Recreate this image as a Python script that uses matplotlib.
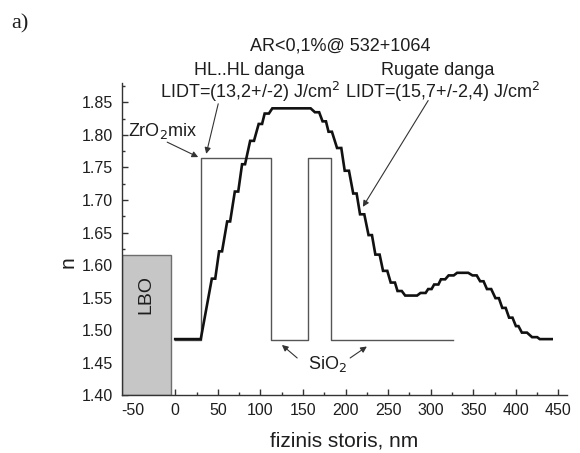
import matplotlib
matplotlib.use("Agg")
import matplotlib.pyplot as plt
from matplotlib.patches import Rectangle
from matplotlib.ticker import MultipleLocator

plt.rcParams['font.family'] = ['Liberation Sans', 'DejaVu Sans']
plt.rcParams['axes.unicode_minus'] = False

# HL..HL stack: layer boundaries (nm) and refractive index of each layer
hl_bounds = [0, 30, 113, 156, 183, 326]
hl_index = [1.485, 1.765, 1.485, 1.765, 1.485]

# Rugate profile: plateaus of the quantised index (start nm, end nm, n)
rug_start = [0, 43, 51.5, 61, 70, 78.5, 88, 98, 105, 114,
             164, 173, 180, 190, 199, 209, 217, 227, 235, 244,
             253, 261, 270, 288, 297, 304, 312, 321, 331, 349,
             358, 366, 376, 384, 392, 400, 407, 419, 428]
rug_end = [30, 47, 55, 64.5, 74, 82, 92.5, 102, 110, 159,
           169, 177, 184, 195, 204, 213, 222, 231, 240, 249,
           258, 266, 284, 294, 301, 309, 317, 327, 344, 354,
           362, 371, 380, 388, 396, 403, 413, 425, 442]
rug_n = [1.486, 1.579, 1.621, 1.667, 1.713, 1.755, 1.791, 1.817, 1.833, 1.841,
         1.835, 1.821, 1.805, 1.780, 1.745, 1.710, 1.678, 1.646, 1.616, 1.591,
         1.573, 1.560, 1.553, 1.557, 1.563, 1.570, 1.578, 1.584, 1.588, 1.584,
         1.575, 1.563, 1.549, 1.534, 1.519, 1.506, 1.496, 1.489, 1.486]

# Substrate block
lbo_x = (-63, -5.5)
lbo_top = 1.615

x_ticks = list(range(-50, 451, 50))
y_ticks = [1.40, 1.45, 1.50, 1.55, 1.60, 1.65, 1.70, 1.75, 1.80, 1.85]

TXT = '#1e1e1e'
AX = '#333333'

fig = plt.figure(figsize=(5.8, 4.53), dpi=100)
ax = fig.add_axes([0.2103, 0.128, 0.7673, 0.6888])

# substrate
ax.add_patch(Rectangle((lbo_x[0], 1.40), lbo_x[1] - lbo_x[0], lbo_top - 1.40,
                       facecolor='#c6c6c6', edgecolor='#6e6e6e', lw=1.0, zorder=2))
ax.text((lbo_x[0] + lbo_x[1]) / 2, 1.5545, 'LBO', rotation=90, ha='center',
        va='center', fontsize=14, color=TXT, zorder=3)

# HL..HL stack (thin stepped line)
hx = [hl_bounds[0]]
hy = [hl_index[0]]
for i, n in enumerate(hl_index):
    hx += [hl_bounds[i], hl_bounds[i + 1]]
    hy += [n, n]
ax.plot(hx, hy, color='#555555', lw=1.0, zorder=3)

# rugate profile (thick quantised curve)
rx, ry = [], []
for s, e, n in zip(rug_start, rug_end, rug_n):
    rx += [s, e]
    ry += [n, n]
ax.plot(rx, ry, color='#111111', lw=1.9, zorder=4, solid_joinstyle='miter')

ax.set_xlim(-62.5, 460)
ax.set_ylim(1.40, 1.88)
ax.set_xticks(x_ticks)
ax.set_yticks(y_ticks)
ax.set_yticklabels([f'{v:.2f}' for v in y_ticks])
ax.xaxis.set_minor_locator(MultipleLocator(25))
ax.yaxis.set_minor_locator(MultipleLocator(0.025))
ax.tick_params(which='both', direction='in', color=AX, width=1.0,
               labelsize=11.5, labelcolor=TXT)
ax.tick_params(which='major', length=4)
ax.tick_params(which='minor', length=2.5)
ax.tick_params(axis='x', pad=6)
ax.tick_params(axis='y', pad=6.5)
for side in ('top', 'right'):
    ax.spines[side].set_visible(False)
for side in ('left', 'bottom'):
    ax.spines[side].set_color(AX)
    ax.spines[side].set_linewidth(1.0)

fig.text(0.593, 0.014, 'fizinis storis, nm', ha='center', va='baseline',
         fontsize=15, color=TXT)
fig.text(0.117, 0.4216, 'n', rotation=90, ha='center', va='center',
         fontsize=15, color=TXT)
fig.text(0.02, 0.938, 'a)', ha='left', va='baseline', fontsize=16,
         family='Liberation Serif', color=TXT)

kw = dict(fontsize=13, color=TXT, clip_on=False)
ax.text(193.7, 1.930, 'AR<0,1%@ 532+1064', ha='center', va='baseline', **kw)
ax.text(86.9, 1.892, 'HL..HL danga', ha='center', va='baseline', **kw)
ax.text(307.6, 1.892, 'Rugate danga', ha='center', va='baseline', **kw)
ax.text(-17.6, 1.857, 'LIDT=(13,2+/-2) J/cm$^2$', ha='left', va='baseline', **kw)
ax.text(199.6, 1.857, 'LIDT=(15,7+/-2,4) J/cm$^2$', ha='left', va='baseline', **kw)
ax.text(-55.2, 1.798, 'ZrO$_2$mix', ha='left', va='baseline', **kw)
ax.text(178.5, 1.440, 'SiO$_2$', ha='center', va='baseline', **kw)

ap = dict(arrowstyle='-|>', color='#333333', lw=0.8, mutation_scale=9,
          shrinkA=0, shrinkB=0)
ax.annotate('', xy=(27, 1.766), xytext=(-9.4, 1.789), arrowprops=ap,
            annotation_clip=False)
ax.annotate('', xy=(36.4, 1.771), xytext=(50.5, 1.848), arrowprops=ap,
            annotation_clip=False)
ax.annotate('', xy=(220.3, 1.6895), xytext=(297, 1.853), arrowprops=ap,
            annotation_clip=False)
ax.annotate('', xy=(125.3, 1.477), xytext=(143.2, 1.457), arrowprops=ap,
            annotation_clip=False)
ax.annotate('', xy=(225, 1.4746), xytext=(205.4, 1.457), arrowprops=ap,
            annotation_clip=False)

fig.savefig('out.png', dpi=100)
